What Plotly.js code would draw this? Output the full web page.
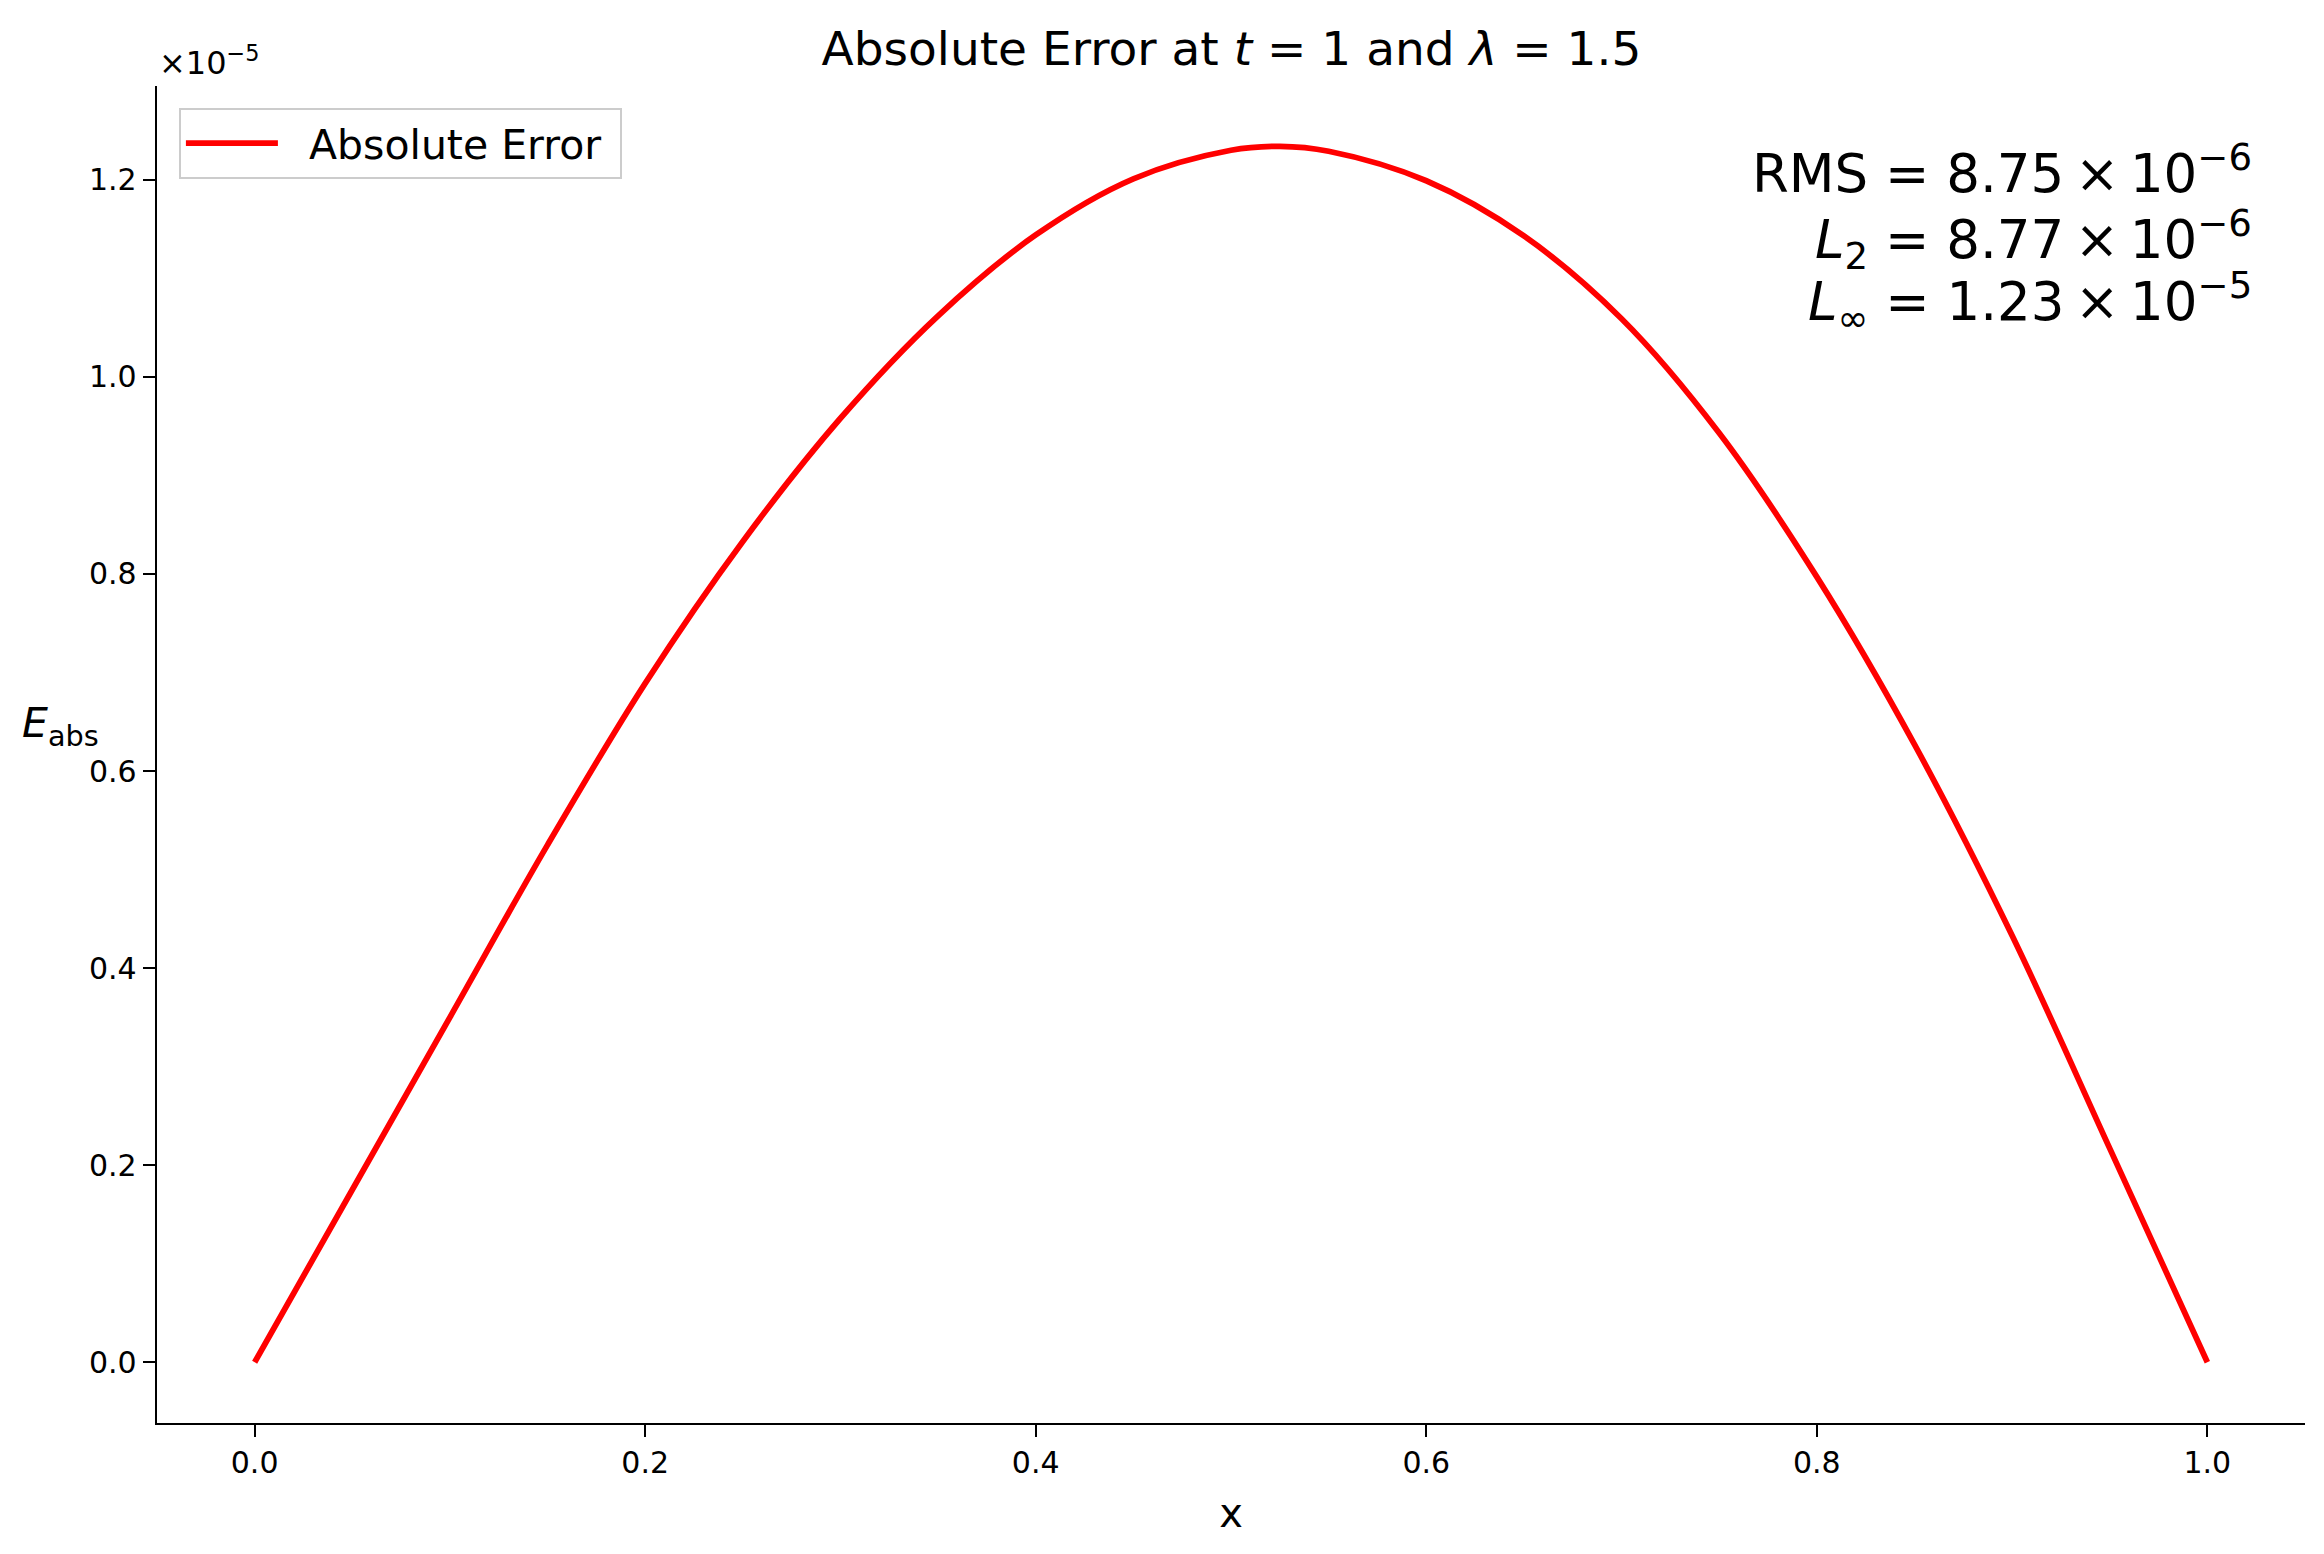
<!DOCTYPE html>
<html>
<head>
<meta charset="utf-8">
<script src="https://cdn.plot.ly/plotly-3.0.1.min.js"></script>
<style>
  html, body { margin: 0; padding: 0; background: #ffffff; }
  #chart { width: 2324px; height: 1554px; }
</style>
</head>
<body>
<div id="chart"></div>
<script>
// Spatial grid x and absolute error values (in units of 1e-5)
const xValues = [0.00, 0.05, 0.10, 0.15, 0.20, 0.25, 0.30, 0.35, 0.40, 0.45, 0.50, 0.525,
                 0.55, 0.60, 0.65, 0.70, 0.75, 0.80, 0.85, 0.90, 0.95, 1.00];
const absError = [0.000, 0.175, 0.350, 0.525, 0.689, 0.833, 0.958, 1.062, 1.144, 1.201, 1.230, 1.234,
                  1.229, 1.199, 1.143, 1.059, 0.943, 0.797, 0.627, 0.433, 0.217, 0.000];

const xTickVals = [0.0, 0.2, 0.4, 0.6, 0.8, 1.0];
const xTickText = ["0.0", "0.2", "0.4", "0.6", "0.8", "1.0"];
const yTickVals = [0.0, 0.2, 0.4, 0.6, 0.8, 1.0, 1.2];
const yTickText = ["0.0", "0.2", "0.4", "0.6", "0.8", "1.0", "1.2"];

const seriesName = "Absolute Error";
const titleText = "Absolute Error at <i>t</i> = 1 and <i>λ</i> = 1.5";
const statsLines = [
  "RMS = 8.75\u2009×\u200910<sup>−6</sup>",
  "<i>L</i><sub>2</sub> = 8.77\u2009×\u200910<sup>−6</sup>",
  "<i>L</i><sub>∞</sub> = 1.23\u2009×\u200910<sup>−5</sup>"
];
const offsetText = "×10<sup>−5</sup>";

const FONT = "DejaVu Sans, Liberation Sans, sans-serif";

const trace = {
  x: xValues,
  y: absError,
  type: "scatter",
  mode: "lines",
  name: "\u00a0\u00a0" + seriesName + "\u00a0",
  line: { color: "#ff0000", width: 5.8, shape: "spline", smoothing: 1 },
  hoverinfo: "skip"
};

const statsY = [0.9372, 0.8846, 0.8384];
const annotations = statsLines.map((t, i) => ({
  text: t, xref: "paper", yref: "paper", x: 0.9763, y: statsY[i],
  xanchor: "right", yanchor: "middle", showarrow: false,
  font: { family: FONT, size: 53, color: "#000000" }
}));
annotations.push({
  text: offsetText, xref: "paper", yref: "paper", x: 0.0, y: 1.019,
  xanchor: "left", yanchor: "middle", showarrow: false,
  font: { family: FONT, size: 32, color: "#000000" }
});
annotations.push({
  text: "<i>E</i><sub>abs</sub>", xref: "paper", yref: "paper", x: -0.064, y: 0.5213,
  xanchor: "left", yanchor: "middle", showarrow: false,
  font: { family: FONT, size: 41, color: "#000000" }
});

const layout = {
  width: 2324,
  height: 1554,
  paper_bgcolor: "#ffffff",
  plot_bgcolor: "#ffffff",
  font: { family: FONT, color: "#000000" },
  margin: { l: 157, r: 19, t: 86, b: 131, pad: 0 },
  title: {
    text: titleText,
    font: { family: FONT, size: 47, color: "#000000" },
    x: 0.5299, xref: "container", xanchor: "center",
    y: 0.969, yref: "container", yanchor: "middle"
  },
  showlegend: true,
  legend: {
    x: 0.0102, y: 0.9835, xanchor: "left", yanchor: "top",
    bgcolor: "rgba(255,255,255,0.8)",
    bordercolor: "#cccccc", borderwidth: 2,
    font: { family: FONT, size: 41, color: "#000000" },
    itemwidth: 92
  },
  xaxis: {
    range: [-0.05, 1.05],
    tickmode: "array", tickvals: xTickVals, ticktext: xTickText,
    ticks: "outside", ticklen: 12, tickwidth: 2.2, tickcolor: "#000000",
    tickfont: { family: FONT, size: 30, color: "#000000" },
    showline: true, linecolor: "#000000", linewidth: 2.4, mirror: false,
    showgrid: false, zeroline: false,
    title: { text: "x", font: { family: FONT, size: 40, color: "#000000" }, standoff: 20 }
  },
  yaxis: {
    range: [-0.0617, 1.2952],
    tickmode: "array", tickvals: yTickVals, ticktext: yTickText,
    ticks: "outside", ticklen: 12, tickwidth: 2.2, tickcolor: "#000000",
    tickfont: { family: FONT, size: 30, color: "#000000" },
    showline: true, linecolor: "#000000", linewidth: 2.4, mirror: false,
    showgrid: false, zeroline: false
  },
  annotations: annotations
};

Plotly.newPlot("chart", [trace], layout, { staticPlot: true, displayModeBar: false });
</script>
</body>
</html>
